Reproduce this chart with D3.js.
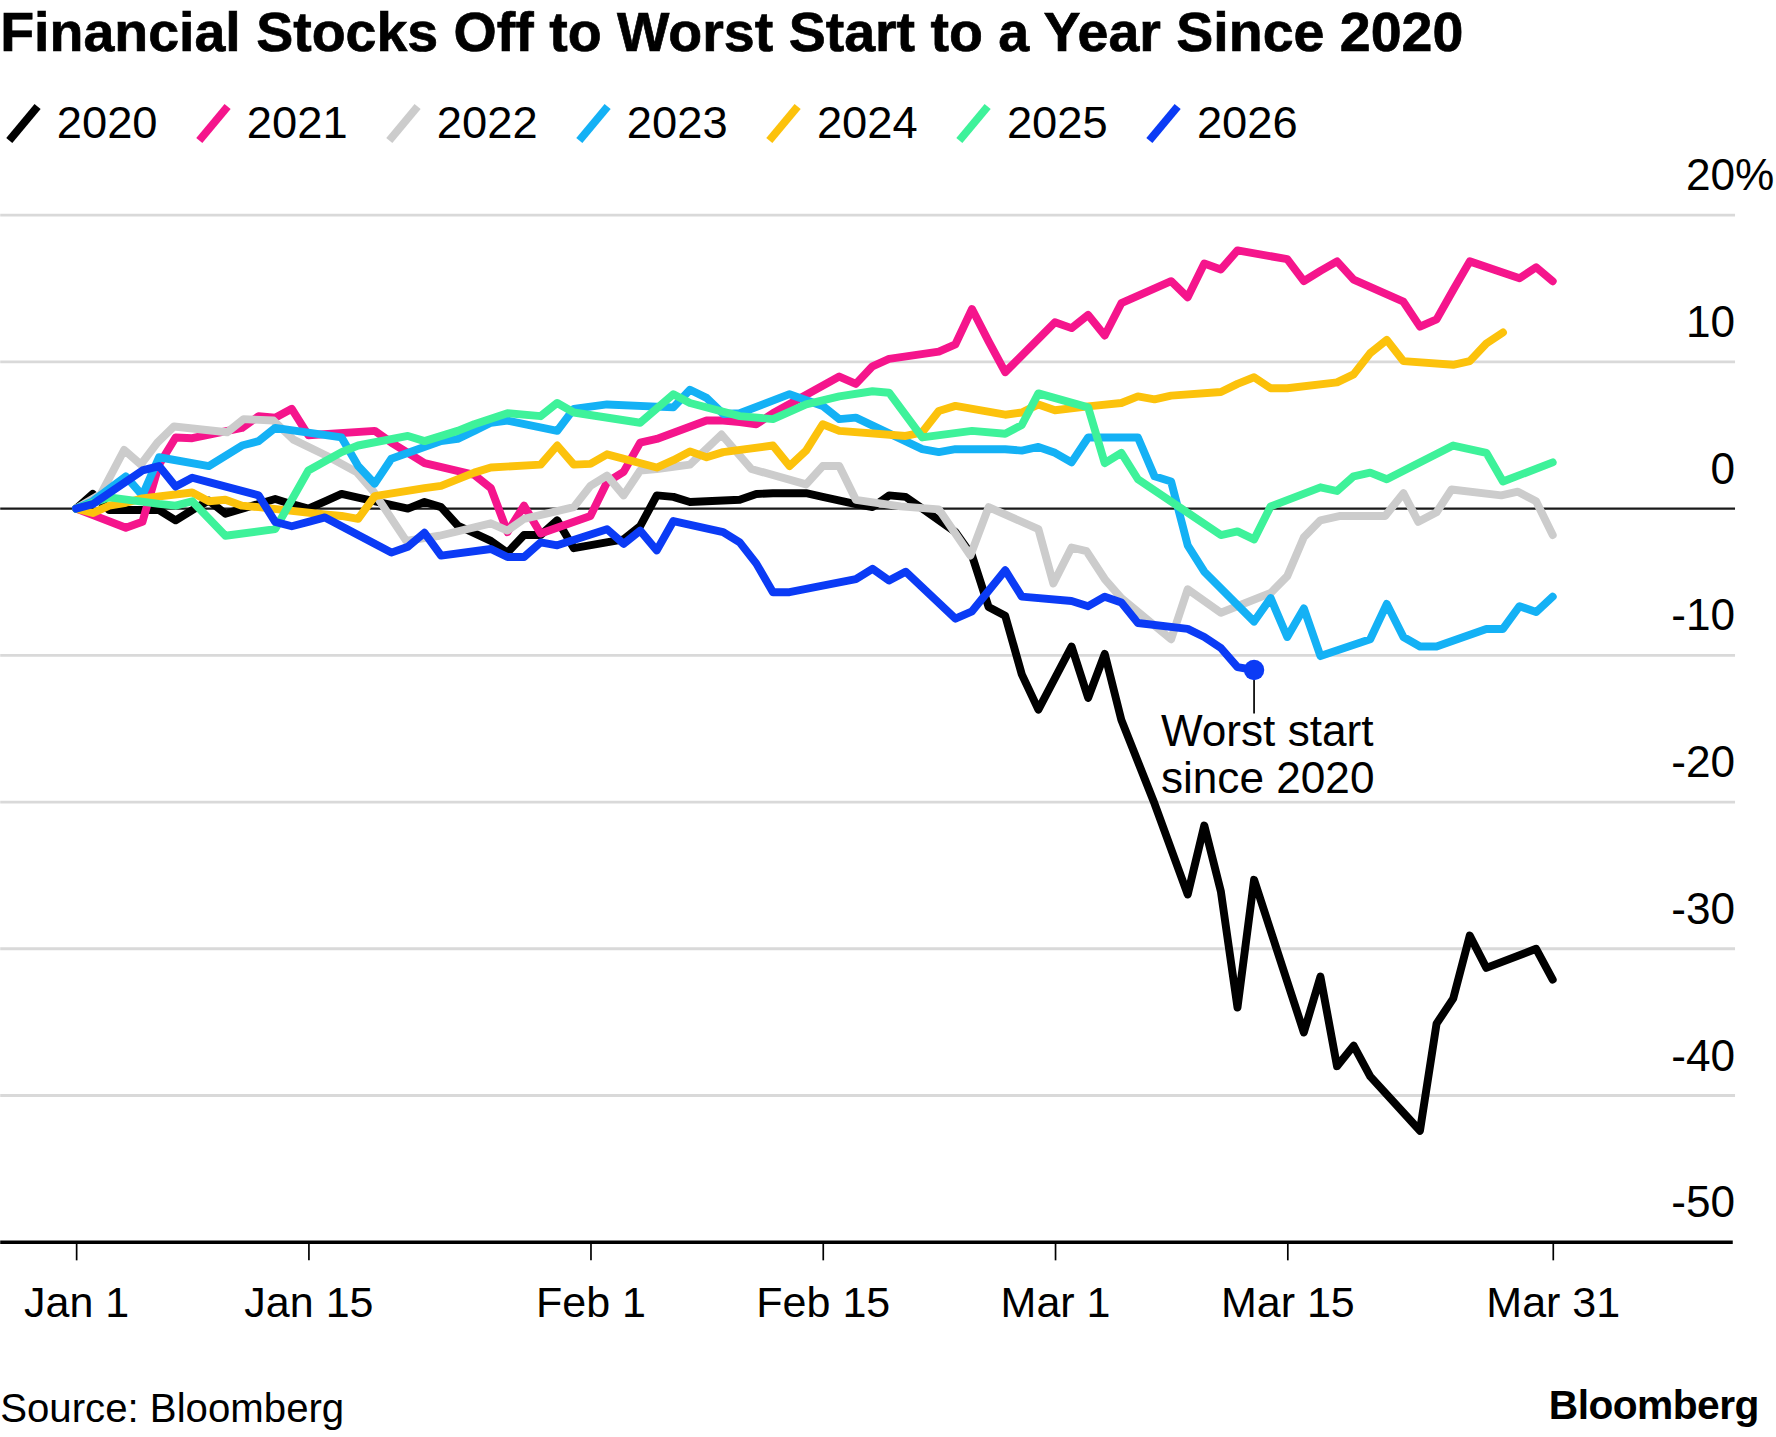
<!DOCTYPE html>
<html>
<head>
<meta charset="utf-8">
<script src="https://cdn.jsdelivr.net/npm/d3@7"></script>
<style>
  body { margin: 0; background: #fff; }
  text { font-family: "Liberation Sans", Arial, sans-serif; fill: #000; }
</style>
</head>
<body>
<svg id="chart"></svg>
<script>
// values: [days since Jan 1, % change]
const years = ['2020', '2021', '2022', '2023', '2024', '2025', '2026'];
const colors = ['#000000', '#f5158c', '#cccccc', '#14b1f5', '#fcc20c', '#3ef29a', '#0b3bf5'];

const s2020 = [[0,0],[1,1.0],[2,-0.1],[5,-0.1],[6,-0.8],[7,-0.1],[8,0.55],[9,-0.35],[12,0.65],[13,0.3],[14,0.0],[15,0.5],[16,1.0],[17,0.75],[20,0.0],[21,0.45],[22,0.1],[23,-1.15],[25,-2.2],[26,-3.0],[27,-1.8],[28,-1.8],[29,-0.8],[30,-2.7],[33,-2.1],[34,-1.2],[35,0.9],[36,0.8],[37,0.45],[38,0.5],[40,0.6],[41,1.0],[42,1.05],[44,1.05],[45,0.8],[47,0.3],[48,0.1],[49,0.9],[50,0.8],[51,0.0],[53,-1.6],[54,-3.2],[55,-6.7],[56,-7.3],[57,-11.3],[58,-13.7],[60,-9.4],[61,-12.9],[62,-9.9],[63,-14.4],[65,-20.1],[67,-26.3],[68,-21.6],[69,-26.1],[70,-34.0],[71,-25.3],[74,-35.7],[75,-31.9],[76,-38.0],[77,-36.6],[78,-38.7],[81,-42.4],[82,-35.1],[83,-33.4],[84,-29.1],[85,-31.3],[88,-30.0],[89,-32.1]];
const s2021 = [[0,0],[3,-1.3],[4,-0.9],[5,3.0],[6,4.85],[7,4.8],[10,5.5],[11,6.3],[12,6.2],[13,6.8],[14,5.0],[18,5.3],[19,4.5],[20,3.8],[21,3.1],[24,2.3],[25,1.4],[26,-1.6],[27,0.2],[28,-1.7],[31,-0.5],[32,1.8],[33,2.5],[34,4.5],[35,4.75],[38,6.0],[39,6.0],[40,5.9],[41,5.75],[42,6.5],[46,9.0],[47,8.5],[48,9.7],[49,10.2],[52,10.7],[53,11.2],[54,13.6],[55,11.4],[56,9.3],[59,12.7],[60,12.3],[61,13.2],[62,11.8],[63,14.0],[66,15.5],[67,14.4],[68,16.7],[69,16.3],[70,17.6],[73,17.0],[74,15.5],[75,16.2],[76,16.85],[77,15.6],[80,14.1],[81,12.4],[82,12.9],[83,14.9],[84,16.85],[87,15.7],[88,16.45],[89,15.5]];
const s2022 = [[0,0],[1.5,1.0],[2.9,4.0],[3.9,3.0],[4.9,4.5],[5.9,5.6],[9.1,5.2],[10.1,6.1],[11.9,6.0],[13.1,4.7],[15.1,3.6],[16.9,2.5],[17.9,1.2],[19.9,-2.2],[21.9,-1.85],[25,-1.0],[26,-1.5],[27,-0.7],[30,0.1],[31,1.55],[32,2.25],[33,0.9],[34,2.6],[35,2.7],[37,3.0],[38.9,5.05],[40.7,2.7],[44,1.65],[45,2.9],[46,2.9],[47,0.6],[49.7,0.15],[52,-0.05],[53.9,-3.2],[55,0.1],[58,-1.4],[58.9,-5.1],[60,-2.65],[60.9,-2.9],[62,-4.8],[63,-6.1],[66,-8.9],[67,-5.5],[69,-7.1],[72,-5.75],[73,-4.6],[74,-1.95],[75,-0.8],[76.2,-0.5],[78.9,-0.5],[80,1.05],[80.9,-0.9],[82,-0.25],[82.9,1.3],[85.9,0.9],[86.9,1.15],[88,0.5],[89,-1.8]];
const s2023 = [[0,0],[1,0.5],[3,2.2],[4,0.9],[5,3.5],[8,2.9],[10,4.3],[11,4.6],[12,5.5],[16,4.85],[17,2.9],[18,1.7],[19,3.4],[22,4.6],[23,4.75],[24,5.3],[25,5.85],[26,6.0],[29,5.3],[30,6.8],[32,7.1],[36,6.9],[37,8.1],[38,7.55],[39,6.45],[40,6.5],[43,7.8],[45,7.0],[46,6.1],[47,6.2],[51,4.05],[52,3.85],[53,4.05],[56,4.05],[57,3.95],[58,4.2],[59,3.8],[60,3.15],[61,4.85],[64,4.85],[65,2.2],[66,1.85],[67,-2.5],[68,-4.3],[71,-7.7],[72,-6.1],[73,-8.75],[74,-6.8],[75,-10.05],[78,-8.9],[79,-6.5],[80,-8.75],[81,-9.4],[82,-9.4],[85,-8.2],[86,-8.2],[87,-6.65],[88,-7.05],[89,-6.0]];
const s2024 = [[0,0],[1,-0.3],[2,0.2],[3,0.4],[4,0.7],[7,1.1],[8,0.5],[9,0.6],[10,0.2],[11,0.1],[15,-0.4],[16,-0.5],[17,-0.7],[18,0.85],[21,1.4],[22,1.55],[24,2.45],[25,2.8],[28,3.0],[29,4.3],[30,3.0],[31,3.05],[32,3.7],[35,2.8],[36,3.3],[37,3.9],[38,3.5],[39,3.85],[42,4.3],[43,2.9],[44,3.95],[45,5.75],[46,5.3],[50,4.95],[51,5.2],[52,6.65],[53,7.0],[56,6.4],[57,6.55],[58,7.1],[59,6.7],[61,6.97],[63,7.2],[64,7.65],[65,7.45],[66,7.7],[69,7.95],[70,8.5],[71,8.95],[72,8.2],[73,8.2],[76,8.6],[77,9.15],[78,10.6],[79,11.5],[80,10.05],[83,9.8],[84,10.05],[85,11.25],[86,12.0]];
const s2025 = [[0,0],[2,0.77],[5,0.32],[6,0.2],[7,0.5],[9,-1.85],[12,-1.4],[14,2.6],[16,3.85],[17,4.3],[20,4.95],[21,4.6],[23,5.3],[24,5.75],[26,6.5],[28,6.3],[29,7.2],[30,6.55],[34,5.85],[36,7.8],[37,7.2],[40,6.3],[42,6.1],[44,7.1],[46,7.65],[48,8.0],[49,7.9],[51,4.85],[54,5.3],[56,5.1],[57,5.7],[58,7.85],[61,6.9],[62,3.1],[63,3.8],[64,2.0],[69,-1.8],[70,-1.55],[71,-2.1],[72,0.15],[75,1.45],[76,1.2],[77,2.2],[78,2.45],[79,2.0],[83,4.3],[85,3.8],[86,1.85],[89,3.15]];
const s2026 = [[0,0],[1,0.3],[4,2.6],[5,2.9],[6,1.5],[7,2.1],[8,1.8],[11,0.9],[12,-0.9],[13,-1.2],[14,-0.9],[15,-0.6],[19,-3.0],[20,-2.6],[21,-1.65],[22,-3.2],[25,-2.75],[26,-3.3],[27,-3.3],[28,-2.3],[29,-2.5],[32,-1.4],[33,-2.4],[34,-1.5],[35,-2.85],[36,-0.85],[39,-1.6],[40,-2.3],[41,-3.75],[42,-5.7],[43,-5.7],[47,-4.8],[48,-4.1],[49,-4.9],[50,-4.3],[53,-7.5],[54,-7.0],[55,-5.6],[56,-4.2],[57,-6.0],[60,-6.3],[61,-6.65],[62,-6.0],[63,-6.4],[64,-7.8],[67,-8.2],[68,-8.75],[69,-9.5],[70,-10.8],[71,-11.0]];

const seriesList = [s2020, s2021, s2022, s2023, s2024, s2025, s2026];

const xTickDays = [0, 14, 31, 45, 59, 73, 89];
const xTickLabels = ['Jan 1', 'Jan 15', 'Feb 1', 'Feb 15', 'Mar 1', 'Mar 15', 'Mar 31'];
const yTicks = [20, 10, 0, -10, -20, -30, -40, -50];

const W = 1568, H = 1269;
const svg = d3.select('#chart')
  .attr('width', 1776)
  .attr('height', 1437)
  .attr('viewBox', `0 0 ${W} ${H}`);

svg.append('rect').attr('width', W).attr('height', H).attr('fill', '#fff');

const day = (d) => new Date(Date.UTC(2026, 0, 1) + d * 864e5);

const x = d3.scaleUtc()
  .domain([day(0), day(89)])
  .range([67, 1371]);

const y = d3.scaleLinear()
  .domain([-50, 20])
  .range([1097, 190]);

const plotRight = 1532;

// title
svg.append('text')
  .attr('x', 0)
  .attr('y', 45)
  .attr('font-size', 49)
  .attr('font-weight', 'bold')
  .attr('stroke', '#000')
  .attr('stroke-width', 0.6)
  .attr('textLength', 1292)
  .attr('lengthAdjust', 'spacingAndGlyphs')
  .text('Financial Stocks Off to Worst Start to a Year Since 2020');

// legend
const legend = svg.append('g');
const item = legend.selectAll('g').data(years).enter().append('g')
  .attr('transform', (d, i) => `translate(${5 + i * 167.8},0)`);
item.append('line')
  .attr('x1', 3).attr('y1', 124)
  .attr('x2', 28).attr('y2', 94)
  .attr('stroke', (d, i) => colors[i])
  .attr('stroke-width', 7);
item.append('text')
  .attr('x', 45)
  .attr('y', 122)
  .attr('font-size', 40)
  .text((d) => d);

// gridlines
const grid = svg.append('g');
grid.selectAll('line').data(yTicks.filter((v) => v !== 0 && v !== -50)).enter().append('line')
  .attr('x1', 0).attr('x2', plotRight)
  .attr('y1', (d) => y(d)).attr('y2', (d) => y(d))
  .attr('stroke', '#d9d9d9')
  .attr('stroke-width', 2.5);

// y labels
const yLab = svg.append('g');
yLab.selectAll('text').data(yTicks).enter().append('text')
  .attr('x', plotRight)
  .attr('y', (d) => y(d) - 22)
  .attr('text-anchor', 'end')
  .attr('font-size', 39)
  .text((d) => String(d));
yLab.append('text')
  .attr('x', plotRight)
  .attr('y', y(yTicks[0]) - 22)
  .attr('font-size', 39)
  .text('%');

// zero line
svg.append('line')
  .attr('x1', 0).attr('x2', plotRight)
  .attr('y1', y(0)).attr('y2', y(0))
  .attr('stroke', '#1a1a1a')
  .attr('stroke-width', 2);

// x axis
const xAxis = d3.axisBottom(x)
  .tickValues(xTickDays.map(day))
  .tickFormat((d, i) => xTickLabels[i])
  .tickSize(16);
const gx = svg.append('g')
  .attr('transform', `translate(0,${y(-50)})`)
  .call(xAxis);
gx.select('.domain').remove();
gx.selectAll('.tick line').attr('stroke', '#000').attr('stroke-width', 1.5);
gx.selectAll('.tick text')
  .attr('y', 66)
  .attr('dy', null)
  .attr('font-size', 38)
  .attr('font-family', '"Liberation Sans", Arial, sans-serif')
  .attr('fill', '#000');

svg.append('line')
  .attr('x1', 0).attr('x2', 1530)
  .attr('y1', y(-50)).attr('y2', y(-50))
  .attr('stroke', '#000')
  .attr('stroke-width', 3);

// lines
const line = d3.line()
  .x((d) => x(day(d[0])))
  .y((d) => y(d[1]));

svg.append('g').selectAll('path').data(seriesList).enter().append('path')
  .attr('d', line)
  .attr('fill', 'none')
  .attr('stroke', (d, i) => colors[i])
  .attr('stroke-width', 7)
  .attr('stroke-linejoin', 'round')
  .attr('stroke-linecap', 'round');

// annotation
const last = s2026[s2026.length - 1];
const ax = x(day(last[0]));
const ay = y(last[1]);
svg.append('line')
  .attr('x1', ax).attr('x2', ax)
  .attr('y1', ay).attr('y2', 630)
  .attr('stroke', '#000')
  .attr('stroke-width', 1.5);
svg.append('circle')
  .attr('cx', ax).attr('cy', ay).attr('r', 9)
  .attr('fill', colors[6]);
const note = svg.append('text')
  .attr('x', 1025)
  .attr('y', 659)
  .attr('font-size', 39);
note.append('tspan').attr('x', 1025).text('Worst start');
note.append('tspan').attr('x', 1025).attr('dy', 41).text('since 2020');

// footer
svg.append('text')
  .attr('x', 0)
  .attr('y', 1256)
  .attr('font-size', 35.5)
  .text('Source: Bloomberg');
svg.append('text')
  .attr('x', 1553)
  .attr('y', 1253)
  .attr('text-anchor', 'end')
  .attr('font-size', 36)
  .attr('font-weight', 'bold')
  .attr('letter-spacing', -0.5)
  .text('Bloomberg');
</script>
</body>
</html>
